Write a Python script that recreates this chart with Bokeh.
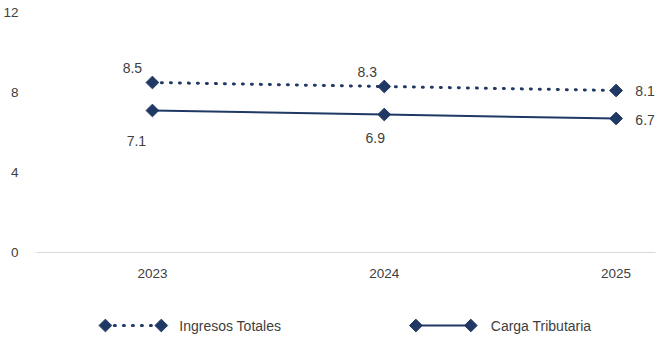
from bokeh.plotting import figure
from bokeh.models import Range1d, FixedTicker, ColumnDataSource, Label
from bokeh.layouts import column
from bokeh.embed import file_html
from bokeh.resources import INLINE
from bokeh.core.properties import value

years = [2023, 2024, 2025]
ingresos_totales = [8.5, 8.3, 8.1]
carga_tributaria = [7.1, 6.9, 6.7]
y_ticks = [0, 4, 8, 12]
series_names = ["Ingresos Totales", "Carga Tributaria"]

NAVY = "#203864"
TXT = "#404040"
FONT = "Liberation Sans"

p = figure(width=658, height=290, output_backend="svg", toolbar_location=None,
           x_range=Range1d(2022.5, 2025.17), y_range=Range1d(0, 12),
           min_border_left=35, min_border_right=3, min_border_top=12, min_border_bottom=38)
p.outline_line_color = None
p.xgrid.visible = False
p.ygrid.visible = False

p.yaxis.ticker = FixedTicker(ticks=y_ticks)
p.yaxis.axis_line_color = None
p.yaxis.major_tick_line_color = None
p.yaxis.minor_tick_line_color = None
p.yaxis.major_label_standoff = 12
p.yaxis.major_label_text_font = FONT
p.yaxis.major_label_text_font_size = "13.5px"
p.yaxis.major_label_text_color = TXT

p.xaxis.ticker = FixedTicker(ticks=years)
p.xaxis.axis_line_color = "#d9d9d9"
p.xaxis.axis_line_width = 1
p.xaxis.major_tick_line_color = None
p.xaxis.minor_tick_line_color = None
p.xaxis.major_label_standoff = 10
p.xaxis.major_label_text_font = FONT
p.xaxis.major_label_text_font_size = "13.5px"
p.xaxis.major_label_text_color = TXT

DOT = "1 8"

# Ingresos Totales (dotted)
p.line(years, ingresos_totales, line_color=NAVY, line_width=3, line_dash=DOT, line_cap="round")
p.scatter(years, ingresos_totales, marker="square", angle=0.785398, size=9, fill_color=NAVY, line_color=NAVY)
# Carga Tributaria (solid)
p.line(years, carga_tributaria, line_color=NAVY, line_width=2)
p.scatter(years, carga_tributaria, marker="square", angle=0.785398, size=9, fill_color=NAVY, line_color=NAVY)

# data labels (screen offsets, positive dy = down)
lab_src_i = ColumnDataSource(dict(x=years, y=ingresos_totales,
                                  t=[f"{v:.1f}" for v in ingresos_totales],
                                  dx=[-20, -17, 29], dy=[-15, -15, 0]))
lab_src_c = ColumnDataSource(dict(x=years, y=carga_tributaria,
                                  t=[f"{v:.1f}" for v in carga_tributaria],
                                  dx=[-16, -9, 29], dy=[30, 23, 1]))
for src in (lab_src_i, lab_src_c):
    p.text(x="x", y="y", text="t", x_offset="dx", y_offset="dy", source=src,
           text_align="center", text_baseline="middle", text_font=value(FONT),
           text_font_size="14px", text_color=TXT)

# legend figure (frame aligned with main figure: 35..655 px)
lg = figure(width=658, height=49, output_backend="svg", toolbar_location=None,
            x_range=Range1d(35, 655), y_range=Range1d(0, 49),
            x_axis_location=None, y_axis_location=None,
            min_border_left=35, min_border_right=3, min_border_top=0, min_border_bottom=0)
lg.outline_line_color = None
lg.xgrid.visible = False
lg.ygrid.visible = False
ly = 14
lg.line([104, 160], [ly, ly], line_color=NAVY, line_width=3, line_dash=DOT, line_cap="round")
lg.scatter([104, 160], [ly, ly], marker="square", angle=0.785398, size=9, fill_color=NAVY, line_color=NAVY)
lg.line([415, 470], [ly, ly], line_color=NAVY, line_width=2)
lg.scatter([415, 470], [ly, ly], marker="square", angle=0.785398, size=9, fill_color=NAVY, line_color=NAVY)
lg.add_layout(Label(x=178, y=ly, text=series_names[0], text_baseline="middle", text_font=FONT,
                    text_font_size="14px", text_color=TXT))
lg.add_layout(Label(x=490, y=ly, text=series_names[1], text_baseline="middle", text_font=FONT,
                    text_font_size="14px", text_color=TXT))

layout = column(p, lg, spacing=0)
open("out.html", "w").write(file_html(layout, INLINE))
